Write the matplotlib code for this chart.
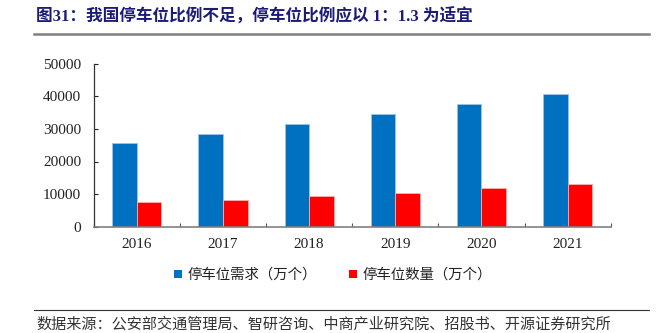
import numpy as np
import matplotlib
matplotlib.use('Agg')
import matplotlib.pyplot as plt
from matplotlib.patches import Patch
from matplotlib.lines import Line2D

years = ['2016', '2017', '2018', '2019', '2020', '2021']
demand = [25600, 28300, 31400, 34500, 37700, 40800]   # 停车位需求（万个）
supply = [7500, 8200, 9400, 10400, 12000, 13200]      # 停车位数量（万个）

title = '图31：我国停车位比例不足，停车位比例应以 1：1.3 为适宜'
source = '数据来源：公安部交通管理局、智研咨询、中商产业研究院、招股书、开源证券研究所'

serif_cjk = ['Liberation Serif', 'Noto Sans CJK SC', 'DejaVu Sans']
cjk = ['Noto Sans CJK SC', 'DejaVu Sans']
plt.rcParams['font.family'] = serif_cjk

W, H = 663, 333
fig = plt.figure(figsize=(W / 100, H / 100), dpi=100)
ax = fig.add_axes([93.7 / W, 1 - 226.7 / H, 517 / W, 163 / H])

x = np.arange(len(years))
bw = 0.285
blue, red = '#0070C0', '#FF0000'
ax.bar(x - bw / 2, demand, bw, color=blue, edgecolor='#9dc3e6', linewidth=0.6)
ax.bar(x + bw / 2, supply, bw, color=red, edgecolor='#ffb0b0', linewidth=0.6)

ax.set_xlim(-0.5, len(years) - 0.5)
ax.set_ylim(0, 50000)
ax.set_yticks(np.arange(0, 50001, 10000))
ax.set_xticks(x)
ax.set_xticklabels(years)
ax.set_xticks(np.arange(-0.5, len(years), 1), minor=True)

ax.tick_params(axis='y', direction='in', length=3, width=0.8, pad=9,
               labelsize=11, colors='#222222')
ax.tick_params(axis='x', which='major', length=0, pad=8, labelsize=11,
               labelcolor='#222222')
ax.tick_params(axis='x', which='minor', direction='in', length=3,
               width=0.8, color='#555555')

for s in ['top', 'right']:
    ax.spines[s].set_visible(False)
ax.spines['left'].set_color('#333333')
ax.spines['bottom'].set_color('#808080')
ax.spines['left'].set_linewidth(0.9)
ax.spines['bottom'].set_linewidth(1.2)

handles = [Patch(facecolor=blue), Patch(facecolor=red)]
fig.legend(handles, ['停车位需求（万个）', '停车位数量（万个）'],
           loc='center', bbox_to_anchor=(333 / W, 1 - 275 / H), ncol=2,
           frameon=False, handlelength=0.55, handleheight=0.55,
           handletextpad=0.4, columnspacing=2.2,
           prop={'family': cjk, 'size': 10.4}, labelcolor='#222222')

fig.text(36 / W, 1 - 17 / H, title, ha='left', va='center', fontsize=12,
         fontweight='bold', color='#1c1c78', family=serif_cjk)
fig.add_artist(Line2D([34 / W, 649 / W], [1 - 33.5 / H, 1 - 33.5 / H],
                      color='#808080', linewidth=1.8))
fig.add_artist(Line2D([34 / W, 649 / W], [1 - 310 / H, 1 - 310 / H],
                      color='#333333', linewidth=0.8))
fig.text(36 / W, 1 - 324 / H, source, ha='left', va='center', fontsize=10.9,
         color='#333333', family=cjk)

fig.savefig('out.png', dpi=100)
